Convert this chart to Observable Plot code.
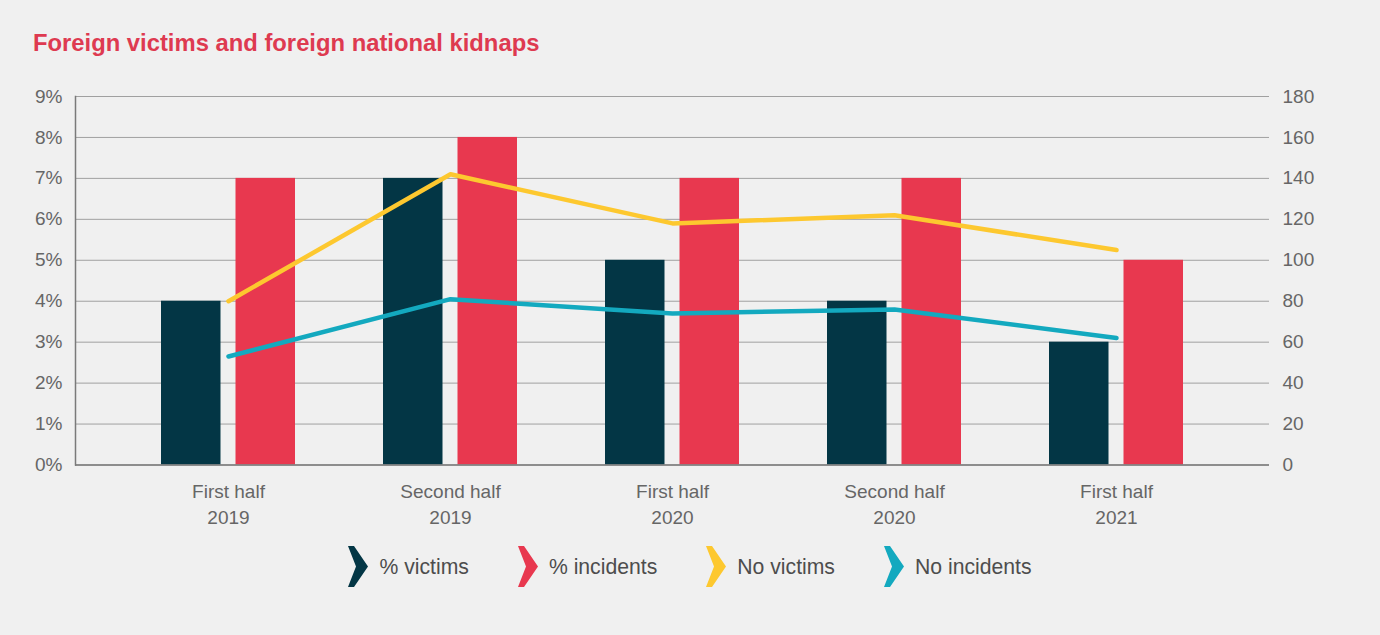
<!DOCTYPE html>
<html>
<head>
<meta charset="utf-8">
<script src="https://cdn.jsdelivr.net/npm/d3@7"></script>
<script src="https://cdn.jsdelivr.net/npm/@observablehq/plot@0.6"></script>
<style>
  html, body { margin: 0; padding: 0; background: #f0f0f0; width: 1380px; height: 635px; overflow: hidden; }
  body { position: relative; font-family: "Liberation Sans", Arial, sans-serif; }
  #title { position: absolute; left: 33px; top: 29px; font-size: 23.8px; font-weight: bold; color: #de3a50; white-space: nowrap; line-height: 28px; }
  #chart { position: absolute; left: 0; top: 70px; }
  #legend { position: absolute; left: 0; width: 1380px; top: 546px; display: flex; justify-content: center; align-items: center; gap: 49px; }
  .item { display: flex; align-items: center; gap: 11px; font-size: 21.2px; color: #4d4d4d; }
  .item svg { display: block; }
</style>
</head>
<body>
<div id="title">Foreign victims and foreign national kidnaps</div>
<div id="chart"></div>
<div id="legend"></div>
<script>
const categories = ["First half\n2019", "Second half\n2019", "First half\n2020", "Second half\n2020", "First half\n2021"];
const pctVictims = [4, 7, 5, 4, 3];
const pctIncidents = [7, 8, 7, 7, 5];
const noVictims = [80, 142, 118, 122, 105];
const noIncidents = [53, 81, 74, 76, 62];
const leftTicks = [0, 1, 2, 3, 4, 5, 6, 7, 8, 9];
const rightTicks = [0, 20, 40, 60, 80, 100, 120, 140, 160, 180];
const seriesNames = ["% victims", "% incidents", "No victims", "No incidents"];
const seriesColors = ["#033645", "#e8384f", "#fdc82f", "#13a9bf"];

const factor = rightTicks[rightTicks.length - 1] / leftTicks[leftTicks.length - 1];
const rows = categories.map((c, i) => ({
  cat: c, pv: pctVictims[i], pi: pctIncidents[i], nv: noVictims[i], ni: noIncidents[i]
}));

const axisStyle = { fontSize: 19, fill: "#666", tickSize: 0, label: null };

const chart = Plot.plot({
  width: 1380,
  height: 480,
  marginLeft: 75,
  marginRight: 111,
  marginTop: 26,
  marginBottom: 85.5,
  style: { background: "transparent", fontFamily: "'Liberation Sans', Arial, sans-serif" },
  x: { domain: categories, paddingInner: 0.398, paddingOuter: 0.38, axis: null },
  y: { domain: [0, 9], axis: null },
  marks: [
    Plot.gridY(leftTicks, { stroke: "#a0a0a0", strokeOpacity: 1, strokeWidth: 1 }),
    Plot.barY(rows, { x: "cat", y: "pv", fill: seriesColors[0], insetRight: 74.5 }),
    Plot.barY(rows, { x: "cat", y: "pi", fill: seriesColors[1], insetLeft: 74.5 }),
    Plot.ruleY([0], { stroke: "#7a7a7a", strokeWidth: 1.5 }),
    Plot.frame({ anchor: "left", stroke: "#7a7a7a", strokeWidth: 1.5 }),
    Plot.line(rows, { x: "cat", y: d => d.nv / factor, stroke: seriesColors[2], strokeWidth: 4.5, strokeLinecap: "round", strokeLinejoin: "round" }),
    Plot.line(rows, { x: "cat", y: d => d.ni / factor, stroke: seriesColors[3], strokeWidth: 4.5, strokeLinecap: "round", strokeLinejoin: "round" }),
    Plot.axisY(leftTicks, { ...axisStyle, anchor: "left", tickPadding: 13, tickFormat: d => d + "%" }),
    Plot.axisY(leftTicks, { ...axisStyle, anchor: "right", tickPadding: 13, tickFormat: d => String(rightTicks[leftTicks.indexOf(d)]) }),
    Plot.axisX({ ...axisStyle, anchor: "bottom", tickPadding: 15, lineHeight: 1.34 })
  ]
});
document.getElementById("chart").appendChild(chart);

const legend = document.getElementById("legend");
seriesNames.forEach((name, i) => {
  const item = document.createElement("div");
  item.className = "item";
  item.innerHTML = `<svg width="20" height="41" viewBox="0 0 20 41"><polygon points="0,0 6,0 20,20.5 6,41 0,41 8,20.5" fill="${seriesColors[i]}"/></svg><span>${name}</span>`;
  legend.appendChild(item);
});
</script>
</body>
</html>
